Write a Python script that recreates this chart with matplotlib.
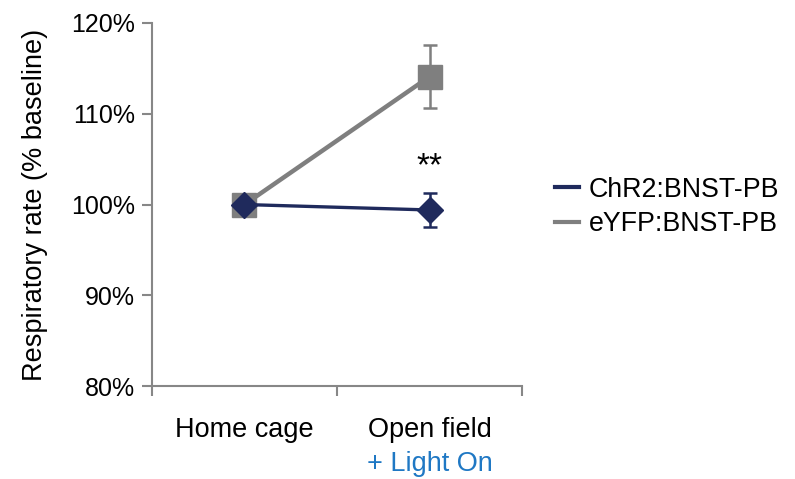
import matplotlib.pyplot as plt
from matplotlib.lines import Line2D

plt.rcParams['font.family'] = ['Liberation Sans', 'DejaVu Sans']

conditions = ["Home cage", "Open field"]
chr2_mean = [100.0, 99.4]
chr2_err = [0.0, 1.9]
eyfp_mean = [100.0, 114.1]
eyfp_err = [0.0, 3.5]

navy = "#1f2a5c"
gray = "#7f7f7f"
axis_gray = "#878787"

fig = plt.figure(figsize=(7.95, 4.79), dpi=100)
ax = fig.add_axes([0.191, 0.194, 0.466, 0.758])

x = [0.5, 1.5]
ax.errorbar(x, eyfp_mean, yerr=eyfp_err, color=gray, lw=3.2, marker="s", ms=17,
            elinewidth=1.8, capsize=5, capthick=1.8, label="eYFP:BNST-PB", zorder=2)
ax.errorbar(x, chr2_mean, yerr=chr2_err, color=navy, lw=2.4, marker="D", ms=13,
            elinewidth=1.8, capsize=5, capthick=1.8, label="ChR2:BNST-PB", zorder=3)

ax.text(1.5, 104.2, "**", ha="center", va="center", fontsize=24)

ax.set_xlim(0, 2)
ax.set_ylim(80, 120)
ax.set_yticks([80, 90, 100, 110, 120])
ax.set_yticklabels([f"{v}%" for v in range(80, 121, 10)])
ax.set_xticks([0, 1, 2])
ax.set_xticklabels([])
ax.set_xticks(x, minor=True)
ax.set_xticklabels(conditions, minor=True)
ax.tick_params(axis="x", which="minor", length=0, pad=22, labelsize=19.5)
ax.tick_params(axis="x", which="major", length=7, width=1.5, color=axis_gray, direction="out")
ax.tick_params(axis="y", length=7, width=1.5, color=axis_gray, labelsize=18, pad=5)
for side in ["top", "right"]:
    ax.spines[side].set_visible(False)
for side in ["left", "bottom"]:
    ax.spines[side].set_color(axis_gray)
    ax.spines[side].set_linewidth(1.5)

ax.set_ylabel("Respiratory rate (% baseline)", fontsize=19.5, labelpad=17)
ax.text(1.5, -0.215, "+ Light On", transform=ax.get_xaxis_transform(),
        ha="center", va="center", fontsize=19.5, color="#1f78c4")

leg_handles = [Line2D([], [], color=navy, lw=3), Line2D([], [], color=gray, lw=3)]
fig.legend(leg_handles, ["ChR2:BNST-PB", "eYFP:BNST-PB"], loc="center left",
           bbox_to_anchor=(0.668, 0.568), frameon=False, fontsize=19.3,
           handlelength=0.9, handletextpad=0.35, labelspacing=0.32)

fig.savefig("out.png", dpi=100)
